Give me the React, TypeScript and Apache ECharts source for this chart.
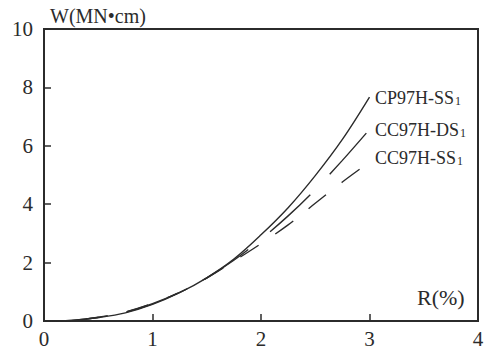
import React, { useEffect, useRef } from "react";
import * as echarts from "echarts";

const rValues = [0, 0.25, 0.5, 0.75, 1, 1.25, 1.5, 1.75, 2, 2.25, 2.5, 2.75, 3];
const cpSS1 = [0, 0.02, 0.12, 0.28, 0.57, 0.97, 1.48, 2.12, 2.95, 3.88, 4.98, 6.22, 7.67];
const ccDS1 = [0, 0.02, 0.12, 0.3, 0.59, 0.98, 1.48, 2.08, 2.8, 3.6, 4.5, 5.5, 6.56];
const ssR = [0, 0.25, 0.5, 0.75, 1, 1.25, 1.5, 1.75, 2, 2.25, 2.5, 2.75, 2.94];
const ccSS1 = [0, 0.02, 0.13, 0.31, 0.6, 0.98, 1.47, 2.05, 2.65, 3.29, 4.03, 4.76, 5.28];

const xTicks = [0, 1, 2, 3, 4];
const yTicks = [0, 2, 4, 6, 8, 10];

const seriesNames = ["CP97H-SS", "CC97H-DS", "CC97H-SS"];
const seriesSub = ["1", "1", "1"];

const FONT = '"Liberation Serif", "Times New Roman", serif';
const INK = "#2b2b2b";

export default function App() {
  const ref = useRef<HTMLDivElement>(null);
  useEffect(() => {
    if (!ref.current) return;
    const chart = echarts.init(ref.current, undefined, { renderer: "svg" });
    const pair = (xs: number[], ys: number[]) => xs.map((x, i) => [x, ys[i]]);
    const lineCommon = {
      type: "line",
      smooth: 0.35,
      showSymbol: false,
      symbol: "none",
      silent: true,
    };
    const labelX = 375;
    const labelYs = [98, 130, 158];
    chart.setOption({
      animation: false,
      grid: {
        left: 44,
        right: 15,
        top: 29,
        bottom: 31,
        show: true,
        borderColor: INK,
        borderWidth: 2,
        backgroundColor: "transparent",
      },
      xAxis: {
        type: "value",
        min: 0,
        max: 4,
        interval: 1,
        axisLine: { show: true, lineStyle: { color: INK, width: 2 } },
        axisTick: { show: true, inside: true, length: 7, lineStyle: { color: INK, width: 1.5 } },
        splitLine: { show: false },
        axisLabel: {
          color: INK,
          fontFamily: FONT,
          fontSize: 21,
          margin: 7,
          formatter: (v: number) => (xTicks.includes(v) ? String(v) : ""),
        },
      },
      yAxis: {
        type: "value",
        min: 0,
        max: 10,
        interval: 2,
        axisLine: { show: true, lineStyle: { color: INK, width: 2 } },
        axisTick: { show: true, inside: true, length: 7, lineStyle: { color: INK, width: 1.5 } },
        splitLine: { show: false },
        axisLabel: {
          color: INK,
          fontFamily: FONT,
          fontSize: 21,
          margin: 11,
          formatter: (v: number) => (yTicks.includes(v) ? String(v) : ""),
        },
      },
      series: [
        {
          ...lineCommon,
          name: seriesNames[0],
          data: pair(rValues, cpSS1),
          lineStyle: { color: INK, width: 1.4, type: "solid" },
        },
        {
          ...lineCommon,
          name: seriesNames[1],
          data: pair(rValues, ccDS1),
          lineStyle: { color: INK, width: 1.4, type: [55, 28], dashOffset: 0 },
        },
        {
          ...lineCommon,
          name: seriesNames[2],
          data: pair(ssR, ccSS1),
          lineStyle: { color: INK, width: 1.4, type: [22, 20], dashOffset: 0 },
        },
      ],
      graphic: [
        {
          type: "text",
          left: 50,
          top: 6,
          style: { text: "W(MN•cm)", fill: INK, font: `20px ${FONT}` },
        },
        {
          type: "text",
          left: 417,
          top: 286,
          style: { text: "R(%)", fill: INK, font: `22px ${FONT}` },
        },
        ...seriesNames.map((n, i) => ({
          type: "text",
          x: labelX,
          y: labelYs[i],
          style: {
            text: `{a|${n}}{b|${seriesSub[i]}}`,
            verticalAlign: "middle",
            rich: {
              a: { fontFamily: FONT, fontSize: 18, fill: INK, color: INK },
              b: { fontFamily: FONT, fontSize: 12, fill: INK, color: INK, verticalAlign: "bottom", padding: [0, 0, 0, 1] },
            },
          },
        })),
      ],
    });
    return () => chart.dispose();
  }, []);
  return <div ref={ref} style={{ width: 493, height: 352, position: "absolute", left: 0, top: 0 }} />;
}
